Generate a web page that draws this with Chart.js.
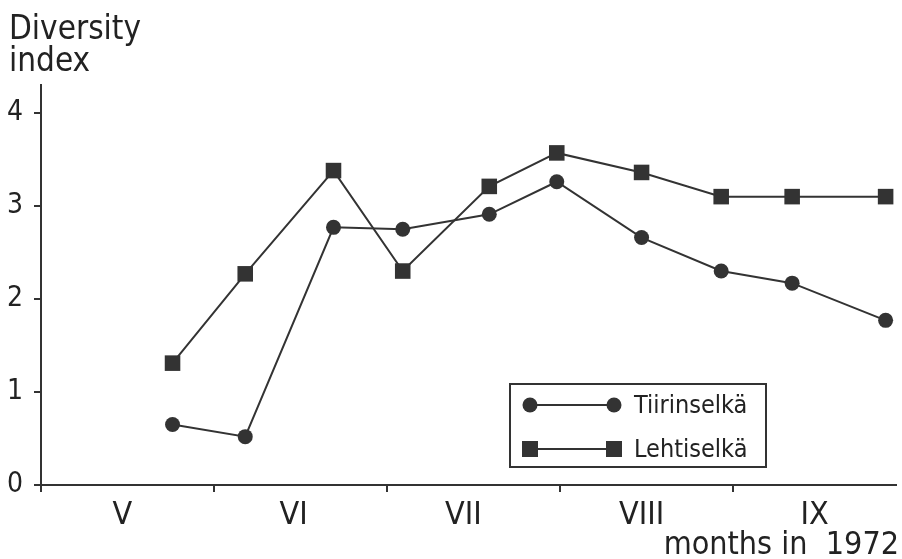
<!DOCTYPE html>
<html>
<head>
<meta charset="utf-8">
<script src="https://cdn.jsdelivr.net/npm/chart.js@4"></script>
<style>
  html, body { margin: 0; padding: 0; background: #fff; }
  #wrap { width: 902px; height: 559px; position: relative; }
</style>
</head>
<body>
<div id="wrap"><canvas id="diversityChart"></canvas></div>
<script>
// sampling times in months after 1 May 1972 (0 = start of May)
const sampleTimes = [0.76, 1.18, 1.69, 2.09, 2.59, 2.98, 3.47, 3.93, 4.34, 4.88];
const tiirinselka = [0.65, 0.52, 2.77, 2.75, 2.91, 3.26, 2.66, 2.30, 2.17, 1.77];
const lehtiselka = [1.31, 2.27, 3.38, 2.30, 3.21, 3.57, 3.36, 3.10, 3.10, 3.10];

const monthLabels = ['V', 'VI', 'VII', 'VIII', 'IX'];
const monthLabelPos = [0.47, 1.46, 2.44, 3.47, 4.47];
const monthStarts = [0, 1, 2, 3, 4];
const yTicks = [0, 1, 2, 3, 4];

const ink = '#333';
const fontFamily = "'DejaVu Sans Condensed', 'DejaVu Sans', sans-serif";

const toPoints = (ys) => ys.map((y, i) => ({ x: sampleTimes[i], y: y }));

// titles, month boundary ticks and the boxed legend
const decor = {
  id: 'decor',
  afterDraw(chart) {
    const ctx = chart.ctx;
    const xs = chart.scales.x;
    const bottom = chart.chartArea.bottom;
    ctx.save();
    ctx.fillStyle = '#222';
    ctx.font = '33px ' + fontFamily;
    ctx.textAlign = 'left';
    ctx.textBaseline = 'alphabetic';
    ctx.fillText('Diversity', 9, 39);
    ctx.fillText('index', 9, 71);

    ctx.textAlign = 'right';
    ctx.font = '32px ' + fontFamily;
    ctx.fillText('months in  1972', 899, 554);

    // month boundaries
    ctx.strokeStyle = ink;
    ctx.lineWidth = 2;
    monthStarts.forEach(m => {
      const px = Math.round(xs.getPixelForValue(m));
      ctx.beginPath();
      ctx.moveTo(px, bottom);
      ctx.lineTo(px, bottom + 7);
      ctx.stroke();
    });

    // legend
    ctx.strokeRect(510, 384, 256, 83);
    const rows = [
      { label: 'Tiirinselkä', y: 405, shape: 'circle' },
      { label: 'Lehtiselkä', y: 449, shape: 'rect' }
    ];
    ctx.font = '25px ' + fontFamily;
    ctx.textAlign = 'left';
    ctx.textBaseline = 'middle';
    rows.forEach(r => {
      ctx.strokeStyle = ink;
      ctx.fillStyle = ink;
      ctx.beginPath();
      ctx.moveTo(530, r.y);
      ctx.lineTo(614, r.y);
      ctx.stroke();
      [530, 614].forEach(cx => {
        ctx.beginPath();
        if (r.shape === 'circle') {
          ctx.arc(cx, r.y, 7.5, 0, Math.PI * 2);
        } else {
          ctx.rect(cx - 8, r.y - 8, 16, 16);
        }
        ctx.fill();
      });
      ctx.fillStyle = '#222';
      ctx.fillText(r.label, 634, r.y + 1);
    });
    ctx.restore();
  }
};

new Chart(document.getElementById('diversityChart'), {
  type: 'line',
  data: {
    datasets: [
      {
        label: 'Tiirinselkä',
        data: toPoints(tiirinselka),
        borderColor: ink,
        borderWidth: 2,
        backgroundColor: ink,
        pointStyle: 'circle',
        pointRadius: 7.5,
        pointBorderWidth: 0,
        tension: 0
      },
      {
        label: 'Lehtiselkä',
        data: toPoints(lehtiselka),
        borderColor: ink,
        borderWidth: 2,
        backgroundColor: ink,
        pointStyle: 'rect',
        pointRadius: 11,
        pointBorderWidth: 0,
        tension: 0
      }
    ]
  },
  options: {
    responsive: true,
    maintainAspectRatio: false,
    animation: false,
    layout: { autoPadding: false, padding: { top: 85, right: 6, left: 0, bottom: 0 } },
    plugins: {
      legend: { display: false },
      title: { display: false },
      tooltip: { enabled: false }
    },
    scales: {
      x: {
        type: 'linear',
        min: 0,
        max: 4.94,
        afterBuildTicks: (scale) => { scale.ticks = monthLabelPos.map(v => ({ value: v })); },
        afterFit: (scale) => { scale.height = 74; },
        grid: { display: false },
        border: { display: true, color: ink, width: 2 },
        ticks: {
          autoSkip: false,
          maxRotation: 0,
          padding: 3,
          color: '#222',
          font: { family: fontFamily, size: 32 },
          callback: (value, index) => monthLabels[index]
        }
      },
      y: {
        min: 0,
        max: 4.3,
        afterBuildTicks: (scale) => { scale.ticks = yTicks.map(v => ({ value: v })); },
        afterFit: (scale) => { scale.width = 41; },
        grid: { drawOnChartArea: false, drawTicks: true, tickLength: 7, color: ink, lineWidth: 2 },
        border: { display: true, color: ink, width: 2 },
        ticks: {
          padding: 11,
          color: '#222',
          font: { family: fontFamily, size: 28 }
        }
      }
    }
  },
  plugins: [decor]
});
</script>
</body>
</html>
